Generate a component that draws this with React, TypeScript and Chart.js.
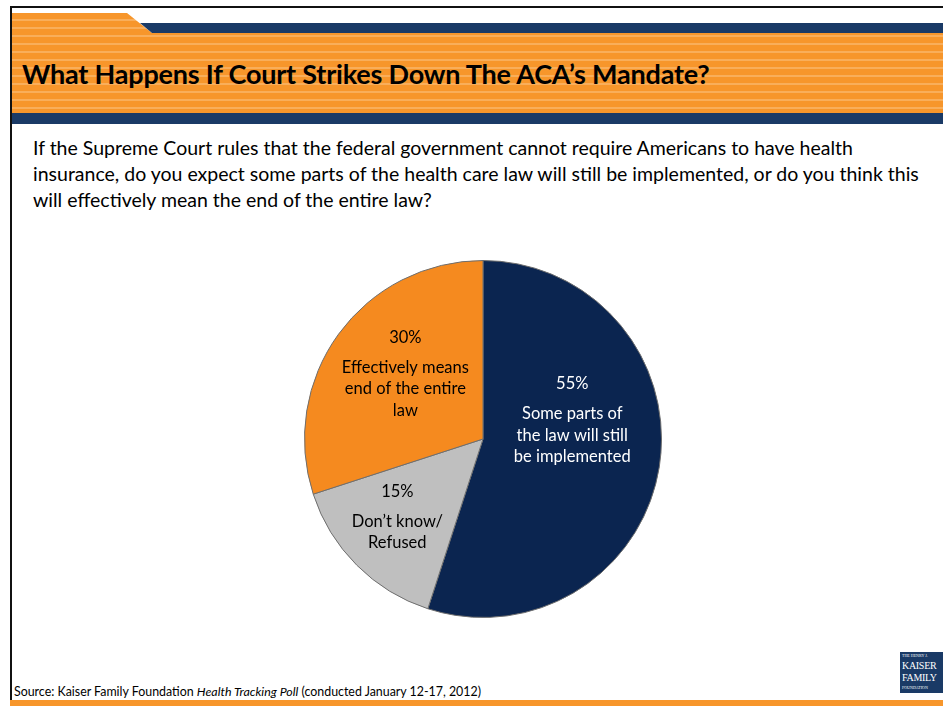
import React, { useEffect, useRef } from "react";
import { Chart, registerables } from "chart.js";

Chart.register(...registerables);

const categories = [
  "Some parts of the law will still be implemented",
  "Don’t know/ Refused",
  "Effectively means end of the entire law",
];
const values = [55, 15, 30];
const sliceLabels = [
  ["Some parts of", "the law will still", "be implemented"],
  ["Don’t know/", "Refused"],
  ["Effectively means", "end of the entire", "law"],
];
const sliceColors = ["#0B2550", "#BFBFBF", "#F58A1F"];
const labelColors = ["#FFFFFF", "#000000", "#000000"];
// label block centre, as fraction of radius, relative to pie centre
const labelAnchors = [
  [0.5, -0.105],
  [-0.48, 0.438],
  [-0.435, -0.365],
];

const title = "What Happens If Court Strikes Down The ACA’s Mandate?";
const questionLines = [
  "If the Supreme Court rules that the federal government cannot require Americans to have health",
  "insurance, do you expect some parts of the health care law will still be implemented, or do you think this",
  "will effectively mean the end of the entire law?",
];

const FONT = "Lato, 'Open Sans', sans-serif";

const labelPlugin = {
  id: "sliceLabels",
  afterDatasetsDraw(chart: any) {
    const ctx = chart.ctx;
    const meta = chart.getDatasetMeta(0);
    meta.data.forEach((arc: any, i: number) => {
      const { x, y, outerRadius } = arc.getProps(["x", "y", "outerRadius"], true);
      const [fx, fy] = labelAnchors[i];
      const cx = x + fx * outerRadius;
      const cy = y + fy * outerRadius;
      const lines = [values[i] + "%", ...sliceLabels[i]];
      const gap = 30;
      const lh = 21.5;
      const total = gap + lh * (lines.length - 2);
      let yy = cy - total / 2;
      ctx.save();
      ctx.fillStyle = labelColors[i];
      ctx.font = `16.5px ${FONT}`;
      ctx.textAlign = "center";
      ctx.textBaseline = "middle";
      lines.forEach((t, k) => {
        ctx.fillText(t, cx, yy);
        yy += k === 0 ? gap : lh;
      });
      ctx.restore();
    });
  },
};

function PieChart() {
  const ref = useRef<HTMLCanvasElement>(null);
  useEffect(() => {
    const chart = new Chart(ref.current!, {
      type: "pie",
      data: {
        labels: categories,
        datasets: [
          {
            data: values,
            backgroundColor: sliceColors,
            borderColor: "#6E6E6E",
            borderWidth: 1,
          },
        ],
      },
      options: {
        animation: false,
        responsive: false,
        maintainAspectRatio: false,
        layout: { padding: 0 },
        plugins: {
          legend: { display: false },
          tooltip: { enabled: false },
        },
      },
      plugins: [labelPlugin],
    });
    return () => chart.destroy();
  }, []);
  return (
    <canvas
      ref={ref}
      width={358}
      height={358}
      style={{ position: "absolute", left: 304, top: 260, width: 358, height: 358 }}
    />
  );
}

export default function App() {
  const stripes =
    "repeating-linear-gradient(to bottom, #F7962B 0px, #F7962B 6px, #F9AE5A 6px, #F9AE5A 8px)";
  return (
    <div
      style={{
        position: "absolute",
        left: 0,
        top: 0,
        width: 943,
        height: 706,
        background: "#FFFFFF",
        overflow: "hidden",
        fontFamily: FONT,
      }}
    >
      {/* frame */}
      <div style={{ position: "absolute", left: 10, top: 6, width: 940, height: 2, background: "#111" }} />
      <div style={{ position: "absolute", left: 10, top: 6, width: 2, height: 700, background: "#111" }} />
      {/* header */}
      <div
        style={{
          position: "absolute",
          left: 12,
          top: 13,
          width: 931,
          height: 100,
          background: stripes,
          clipPath: "polygon(0 0, 115px 0, 140px 20px, 100% 20px, 100% 100%, 0 100%)",
        }}
      />
      <div
        style={{
          position: "absolute",
          left: 140,
          top: 23,
          width: 803,
          height: 10,
          background: "#1A3A66",
          clipPath: "polygon(0 0, 100% 0, 100% 100%, 12px 100%)",
        }}
      />
      <div style={{ position: "absolute", left: 12, top: 113, width: 931, height: 11, background: "#1A3A66" }} />
      <div
        style={{
          position: "absolute",
          left: 22,
          top: 58,
          fontSize: 27,
          fontWeight: 700,
          color: "#000",
          whiteSpace: "nowrap",
          lineHeight: "32px",
          letterSpacing: -0.2,
        }}
      >
        {title}
      </div>
      {/* question */}
      <div
        style={{
          position: "absolute",
          left: 33,
          top: 135,
          fontSize: 19.5,
          lineHeight: "26px",
          color: "#000",
          whiteSpace: "nowrap",
        }}
      >
        {questionLines.map((l, i) => (
          <div key={i}>{l}</div>
        ))}
      </div>
      <PieChart />
      {/* source */}
      <div
        style={{
          position: "absolute",
          left: 14,
          top: 684,
          fontSize: 12.4,
          lineHeight: "15px",
          color: "#000",
          whiteSpace: "nowrap",
        }}
      >
        Source: Kaiser Family Foundation <i>Health Tracking Poll</i> (conducted January 12-17, 2012)
      </div>
      {/* logo */}
      <div
        style={{
          position: "absolute",
          left: 900,
          top: 652,
          width: 43,
          height: 41,
          background: "#1A3A66",
          color: "#fff",
          fontFamily: "'Liberation Serif', serif",
          overflow: "hidden",
          textAlign: "left",
          paddingLeft: 2,
          boxSizing: "border-box",
        }}
      >
        <div style={{ fontSize: 4, lineHeight: "8px" }}>THE HENRY J.</div>
        <div style={{ fontSize: 10, lineHeight: "12px", letterSpacing: -0.3 }}>KAISER</div>
        <div style={{ fontSize: 10, lineHeight: "12px", letterSpacing: -0.3 }}>FAMILY</div>
        <div style={{ fontSize: 4, lineHeight: "8px" }}>FOUNDATION</div>
      </div>
      {/* bottom bar */}
      <div style={{ position: "absolute", left: 10, top: 700, width: 933, height: 6, background: "#F7962B" }} />
    </div>
  );
}
